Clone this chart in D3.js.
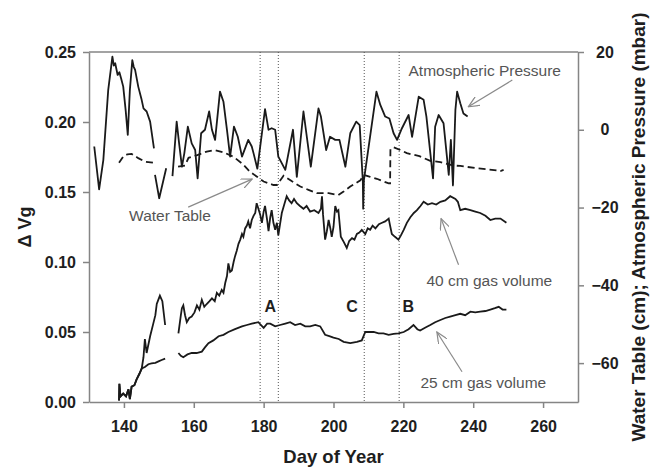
<!DOCTYPE html>
<html>
<head>
<meta charset="utf-8">
<script src="https://cdn.jsdelivr.net/npm/d3@7"></script>
<style>
  body { margin: 0; background: #fff; }
  svg { font-family: "Liberation Sans", Arial, sans-serif; }
</style>
</head>
<body>
<div id="chart"></div>
<script>
// Atmospheric pressure (mbar, right axis) as [day, value]; null marks a break in the record
var pressure = [
  [131.5,-4.3],[132.9,-15.3],[134.1,-7.8],[135.5,10.2],[136.7,18.8],[137.1,16.5],[137.5,17.1],[138.2,14.1],
  [138.7,14.8],[139.2,13.2],[139.8,11.1],[140.5,5.0],[141.1,-1.3],[141.7,10.2],[142.4,17.9],[142.8,16.2],
  [143.2,15.4],[144.1,11.1],[145.0,8.0],[145.6,5.5],[146.5,4.7],[147.5,2.1],[148.6,-4.8],
  null,
  [148.9,-11.6],[150.1,-17.6],[152.1,-9.9],
  null,
  [153.9,-11.9],[155.1,2.1],[155.8,-3.5],[156.6,-9.5],[157.3,-6.0],[158.3,0.8],[159.4,-3.5],[160.4,-5.2],
  [161.1,-12.5],[162.1,-0.9],[163.2,0.0],[164.4,4.7],[165.2,0.0],[166.1,-2.6],[167.5,9.8],[168.5,7.2],
  [169.5,0.0],[170.4,-6.9],[171.5,0.8],[172.6,-1.8],[173.8,-6.9],[175.6,-2.6],[176.6,-4.3],[177.1,-6.0],
  [178.2,-10.0],[180.4,5.3],[181.4,0.0],[182.3,0.4],[183.3,0.0],[184.2,-6.9],[186.2,-10.3],[188.4,0.0],
  [189.5,-12.1],[191.4,4.7],[193.5,-9.5],[195.7,5.5],[196.4,3.4],[197.9,-5.2],[199.0,-1.8],[200.5,-2.6],
  [201.7,-2.6],[203.4,-9.5],[204.8,-0.9],[206.5,2.1],[207.5,1.2],[208.4,-13.3],[208.5,-20.3],[208.7,-13.0],
  [212.3,9.8],[213.4,6.4],[214.8,3.4],[216.0,2.9],[217.2,-0.9],[218.2,-2.6],[219.6,0.4],[221.5,3.8],
  [222.5,-1.8],[224.4,8.5],[225.8,7.7],[226.6,3.4],[228.5,-12.5],[229.1,0.8],[230.1,3.8],[231.5,1.7],
  [233.0,-11.6],[233.6,-2.6],[234.2,-14.3],[234.9,5.1],[235.4,9.8],[236.3,6.8],[237.2,4.2],[238.4,3.4]
];

// Water table (cm, right axis)
var waterTable = [
  [138.6,-8.5],[139.8,-6.9],[141.0,-6.3],[142.2,-6.2],[144.1,-7.3],[146.0,-8.2],[148.6,-8.5],
  null,
  [155.5,-9.5],[157.5,-9.2],[158.5,-7.2],[161.0,-6.5],[163.7,-5.6],[166.0,-5.2],[168.5,-5.8],[171.3,-6.9],
  [174.0,-8.8],[176.1,-10.8],[178.0,-12.0],[180.0,-13.3],[182.8,-14.2],[183.8,-14.2],[185.7,-11.8],
  [188.0,-13.2],[190.5,-14.6],[193.0,-15.5],[195.2,-16.3],[198.6,-16.3],[201.4,-16.8],[203.0,-15.8],
  [204.8,-14.6],[207.7,-13.0],[208.6,-11.6],[210.5,-12.1],[212.4,-12.6],[215.8,-13.8],[216.2,-13.8],
  [216.3,-5.0],[217.2,-4.5],[219.1,-5.2],[221.0,-6.0],[224.6,-6.8],[227.7,-8.0],[230.6,-8.3],
  [234.4,-9.2],[236.3,-9.3],[241.0,-9.9],[244.5,-10.2],[247.8,-10.6],[248.7,-10.3]
];

// 40 cm gas volume (left axis)
var gas40 = [
  [138.6,0.001],[138.7,0.013],[139.0,0.004],[139.8,0.006],[140.6,0.004],[141.3,0.009],[141.7,0.002],
  [142.2,0.011],[143.0,0.012],[143.6,0.016],[144.4,0.020],[145.1,0.024],[145.6,0.032],[146.0,0.045],
  [146.5,0.035],[147.5,0.047],[148.4,0.056],[149.0,0.062],[149.4,0.070],[150.0,0.074],[150.3,0.076],
  [151.0,0.072],[151.8,0.055],
  null,
  [155.6,0.049],[156.3,0.062],[156.6,0.067],[157.0,0.069],[157.5,0.062],[158.0,0.057],[158.7,0.060],
  [159.4,0.061],[160.2,0.064],[160.9,0.069],[161.6,0.066],[162.3,0.073],[163.0,0.068],[163.7,0.070],
  [164.5,0.072],[165.2,0.074],[166.0,0.072],[166.6,0.078],[167.3,0.076],[168.0,0.080],[168.5,0.078],
  [169.0,0.085],[169.5,0.090],[169.9,0.099],[170.4,0.093],[170.9,0.094],[171.4,0.100],[171.8,0.104],
  [172.3,0.108],[172.8,0.113],[173.3,0.116],[173.8,0.120],[174.2,0.118],[174.7,0.124],[175.2,0.126],
  [175.6,0.129],[176.1,0.124],[176.6,0.130],[177.1,0.133],[177.6,0.135],[178.0,0.142],[178.5,0.138],
  [179.0,0.134],[179.5,0.128],[180.0,0.136],[180.4,0.140],[181.0,0.130],[181.4,0.122],[181.9,0.132],
  [182.3,0.137],[182.8,0.128],[183.3,0.123],[183.8,0.128],[184.2,0.119],[184.7,0.127],[185.2,0.135],
  [185.9,0.141],[186.6,0.147],[187.3,0.144],[188.0,0.142],[188.7,0.145],[189.5,0.142],[190.4,0.140],
  [191.4,0.138],[192.3,0.140],[193.3,0.136],[194.5,0.137],[195.7,0.135],[196.4,0.138],[196.7,0.147],
  [197.0,0.134],[197.6,0.116],[198.1,0.122],[198.6,0.130],[199.1,0.124],[199.5,0.118],[200.0,0.125],
  [200.5,0.140],[201.0,0.136],[201.4,0.137],[202.1,0.118],[203.0,0.114],[203.8,0.110],[204.5,0.115],
  [205.3,0.117],[206.0,0.116],[206.7,0.120],[207.4,0.121],[208.1,0.123],[209.1,0.120],[209.8,0.124],
  [210.5,0.123],[211.2,0.126],[212.0,0.124],[213.0,0.127],[213.9,0.128],[214.8,0.129],[215.8,0.131],
  [216.2,0.126],[216.7,0.120],[217.6,0.118],[218.6,0.116],[219.3,0.119],[220.1,0.123],[221.0,0.128],
  [222.0,0.132],[223.0,0.135],[223.9,0.137],[224.9,0.140],[225.8,0.143],[227.0,0.141],[228.2,0.142],
  [229.4,0.141],[230.6,0.143],[232.0,0.144],[233.4,0.147],[234.9,0.145],[235.6,0.143],[236.3,0.137],
  [237.7,0.138],[239.2,0.137],[240.6,0.136],[242.0,0.135],[243.5,0.133],[244.9,0.130],[246.3,0.131],
  [247.8,0.131],[249.5,0.128]
];

// 25 cm gas volume (left axis)
var gas25 = [
  [138.6,0.001],[138.7,0.013],[139.0,0.004],[139.8,0.006],[140.6,0.004],[141.3,0.009],[141.7,0.002],
  [142.2,0.011],[143.0,0.012],[143.6,0.016],[144.4,0.020],[145.1,0.024],[146.0,0.025],[147.0,0.027],
  [147.9,0.0276],[149.0,0.028],[149.9,0.029],[150.8,0.030],[151.8,0.031],
  null,
  [155.6,0.035],[156.3,0.033],[157.0,0.032],[158.2,0.034],[159.4,0.035],[160.8,0.035],[162.3,0.036],
  [163.2,0.039],[164.2,0.042],[165.6,0.044],[167.1,0.047],[168.5,0.048],[169.9,0.050],[171.8,0.052],
  [173.8,0.054],[175.2,0.055],[176.6,0.056],[178.5,0.057],[179.2,0.055],[180.0,0.053],[181.0,0.056],
  [181.9,0.056],[183.3,0.054],[184.7,0.055],[186.2,0.056],[187.6,0.057],[189.0,0.055],[190.5,0.056],
  [191.9,0.054],[193.3,0.054],[194.8,0.055],[196.2,0.054],[197.6,0.048],[198.8,0.047],[200.0,0.046],
  [201.5,0.045],[202.9,0.043],[204.8,0.042],[206.7,0.043],[208.1,0.044],[209.1,0.050],[210.3,0.050],
  [211.5,0.050],[212.9,0.049],[214.3,0.049],[215.8,0.048],[217.2,0.0486],[218.6,0.049],[220.1,0.050],
  [221.5,0.052],[222.9,0.055],[224.0,0.052],[224.8,0.051],[226.2,0.053],[227.7,0.055],[229.1,0.057],
  [230.6,0.0586],[232.0,0.060],[233.4,0.061],[234.9,0.062],[236.3,0.063],[237.7,0.062],[239.2,0.0645],
  [240.6,0.064],[242.0,0.0645],[243.5,0.065],[244.9,0.066],[246.2,0.067],[247.3,0.068],[248.4,0.066],
  [249.5,0.066]
];

// Event days (dotted lines) and their letters
var eventDays = [179.0, 184.2, 208.8, 218.8];
var eventLabels = [
  { text: "A", day: 181.9 },
  { text: "C", day: 205.3 },
  { text: "B", day: 221.4 }
];

// Tick values
var dayTicks = [140, 160, 180, 200, 220, 240, 260];
var gasTicks = [0, 0.05, 0.10, 0.15, 0.20, 0.25];
var rightTicks = [-60, -40, -20, 0, 20];

// Layout
var width = 656, height = 467;
var margin = { top: 52, right: 78, bottom: 65, left: 89 };
var innerW = width - margin.left - margin.right;
var innerH = height - margin.top - margin.bottom;

var svg = d3.select("#chart")
  .append("svg")
    .attr("width", width)
    .attr("height", height);

var g = svg.append("g")
  .attr("transform", `translate(${margin.left}, ${margin.top})`);

// Scales
var x = d3.scaleLinear().domain([130, 270]).range([0, innerW]);
var yLeft = d3.scaleLinear().domain([0, 0.25]).range([innerH, 0]);
var yRight = d3.scaleLinear().domain([-70, 20]).range([innerH, 0]);

var axisColor = "#858585";
var textColor = "#1e1e1e";
var lineColor = "#1a1a1a";

// Axes
function styleAxis(sel) {
  sel.select(".domain").attr("stroke", axisColor).attr("stroke-width", 1.5);
  sel.selectAll(".tick line").attr("stroke", axisColor).attr("stroke-width", 1.5);
  sel.selectAll(".tick text")
    .attr("fill", textColor)
    .style("font-size", "16px")
    .style("font-weight", "bold");
}

g.append("g")
  .attr("transform", `translate(0, ${innerH})`)
  .call(d3.axisBottom(x).tickValues(dayTicks).tickSize(6).tickSizeOuter(0).tickPadding(13))
  .call(styleAxis);

g.append("g")
  .call(d3.axisLeft(yLeft).tickValues(gasTicks).tickFormat(d3.format(".2f"))
    .tickSize(6).tickSizeOuter(0).tickPadding(7))
  .call(styleAxis);

var rightAxis = g.append("g")
  .attr("transform", `translate(${innerW}, 0)`)
  .call(d3.axisRight(yRight).tickValues(rightTicks).tickSize(6).tickSizeOuter(0))
  .call(styleAxis);
rightAxis.selectAll(".tick text").attr("x", 27).attr("text-anchor", "middle");

// Top border
g.append("line")
  .attr("x1", 0).attr("x2", innerW)
  .attr("y1", 0).attr("y2", 0)
  .attr("stroke", axisColor).attr("stroke-width", 1.5);

// Dotted event lines
g.selectAll(".event")
  .data(eventDays)
  .enter().append("line")
    .attr("class", "event")
    .attr("x1", d => x(d)).attr("x2", d => x(d))
    .attr("y1", 0).attr("y2", innerH)
    .attr("stroke", "#555")
    .attr("stroke-width", 1)
    .attr("stroke-dasharray", "1,2");

// Series lines
var lineLeft = d3.line()
  .defined(d => d !== null)
  .x(d => x(d[0]))
  .y(d => yLeft(d[1]));

var lineRight = d3.line()
  .defined(d => d !== null)
  .x(d => x(d[0]))
  .y(d => yRight(d[1]));

g.append("path").datum(gas25)
  .attr("d", lineLeft)
  .attr("fill", "none").attr("stroke", lineColor).attr("stroke-width", 1.8);

g.append("path").datum(gas40)
  .attr("d", lineLeft)
  .attr("fill", "none").attr("stroke", lineColor).attr("stroke-width", 1.8);

g.append("path").datum(waterTable)
  .attr("d", lineRight)
  .attr("fill", "none").attr("stroke", lineColor).attr("stroke-width", 1.8)
  .attr("stroke-dasharray", "7,4");

g.append("path").datum(pressure)
  .attr("d", lineRight)
  .attr("fill", "none").attr("stroke", lineColor).attr("stroke-width", 1.8)
  .attr("stroke-linejoin", "round");

// Event letters
g.selectAll(".event-label")
  .data(eventLabels)
  .enter().append("text")
    .attr("x", d => x(d.day))
    .attr("y", yLeft(0.0645))
    .attr("text-anchor", "middle")
    .attr("fill", textColor)
    .style("font-size", "16px")
    .style("font-weight", "bold")
    .text(d => d.text);

// Annotations with arrows (scale: "L" = left axis, "R" = right axis)
var annotations = [
  { text: "Water Table", scale: "R", tx: 153.2, ty: -23.5, from: [158.4, -19.9], to: [176.7, -12.7] },
  { text: "Atmospheric Pressure", scale: "R", tx: 243.3, ty: 13.8, from: [251.2, 12.8], to: [238.6, 5.9] },
  { text: "40 cm gas volume", scale: "L", tx: 244.6, ty: 0.083, from: [235.8, 0.098], to: [230.8, 0.131] },
  { text: "25 cm gas volume", scale: "L", tx: 242.9, ty: 0.010, from: [236.8, 0.0216], to: [229.6, 0.050] }
];

svg.append("defs").append("marker")
  .attr("id", "arrow")
  .attr("viewBox", "0 0 12 10")
  .attr("refX", 11).attr("refY", 5)
  .attr("markerWidth", 12).attr("markerHeight", 10)
  .attr("markerUnits", "userSpaceOnUse")
  .attr("orient", "auto")
  .append("path")
    .attr("d", "M0,0 L11,5 L0,10")
    .attr("fill", "none")
    .attr("stroke", "#8a8a8a")
    .attr("stroke-width", 1.2);

annotations.forEach(function(a) {
  var ys = a.scale === "L" ? yLeft : yRight;
  g.append("line")
    .attr("x1", x(a.from[0])).attr("y1", ys(a.from[1]))
    .attr("x2", x(a.to[0])).attr("y2", ys(a.to[1]))
    .attr("stroke", "#8a8a8a")
    .attr("stroke-width", 1.2)
    .attr("marker-end", "url(#arrow)");
  g.append("text")
    .attr("x", x(a.tx))
    .attr("y", ys(a.ty))
    .attr("text-anchor", "middle")
    .attr("fill", "#555")
    .style("font-size", "15.5px")
    .text(a.text);
});

// Axis titles
svg.append("text")
  .attr("x", margin.left + (x(200)))
  .attr("y", 463)
  .attr("text-anchor", "middle")
  .attr("fill", textColor)
  .style("font-size", "18.5px")
  .style("font-weight", "bold")
  .text("Day of Year");

svg.append("text")
  .attr("transform", `translate(25, ${margin.top + innerH / 2}) rotate(-90)`)
  .attr("text-anchor", "middle")
  .attr("dominant-baseline", "central")
  .attr("fill", textColor)
  .style("font-size", "18px")
  .style("font-weight", "bold")
  .text("\u0394 Vg");

svg.append("text")
  .attr("transform", `translate(638, ${margin.top + innerH / 2}) rotate(-90)`)
  .attr("text-anchor", "middle")
  .attr("dominant-baseline", "central")
  .attr("fill", textColor)
  .style("font-size", "19px")
  .style("font-weight", "bold")
  .text("Water Table (cm); Atmospheric Pressure (mbar)");
</script>
</body>
</html>
